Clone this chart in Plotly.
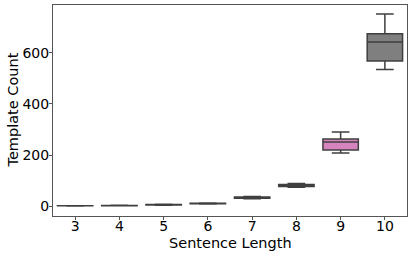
import plotly.graph_objects as go

lengths = [3, 4, 5, 6, 7, 8, 9, 10]
lower = [0.5, 1, 3, 8, 29, 74, 208, 535]
q1 = [0.8, 1.5, 4, 9, 31, 77, 220, 569]
median = [1, 2, 5, 10, 33, 80, 251, 643]
q3 = [1.2, 2.5, 6, 11, 35, 84, 263, 675]
upper = [1.5, 3, 7, 12, 37, 88, 290, 753]
colors = ["#3274a1", "#e1812c", "#3a923a", "#c03d3e", "#9372b2", "#845b53", "#d684bd", "#7f7f7f"]

fig = go.Figure()
for i, L in enumerate(lengths):
    fig.add_trace(go.Box(
        x=[L], q1=[q1[i]], median=[median[i]], q3=[q3[i]],
        lowerfence=[lower[i]], upperfence=[upper[i]],
        width=0.8, whiskerwidth=0.5,
        fillcolor=colors[i], line=dict(color="#3f3f3f", width=1.5),
        showlegend=False, hoverinfo="skip",
    ))

W, H = 412, 256
ML, MR, MT, MB = 53, 5, 5, 40
fig.update_layout(
    width=W, height=H,
    margin=dict(l=ML, r=MR, t=MT, b=MB, autoexpand=False),
    paper_bgcolor="white", plot_bgcolor="white",
    font=dict(family="DejaVu Sans", size=14, color="black"),
    boxmode="overlay",
)
fig.update_xaxes(
    automargin=False,
    range=[2.5, 10.5], tickmode="array", tickvals=lengths,
    ticktext=[str(v) for v in lengths],
    showgrid=False, zeroline=False,
    showline=True, mirror=True, linecolor="#555555", linewidth=1,
    ticks="outside", ticklen=3, tickcolor="#555555",
    ticklabelstandoff=-6,
)
fig.update_yaxes(
    automargin=False,
    range=[-39, 788], tickmode="array", tickvals=[0, 200, 400, 600],
    showgrid=False, zeroline=False,
    showline=True, mirror=True, linecolor="#555555", linewidth=1,
    ticks="outside", ticklen=3, tickcolor="#555555",
    ticklabelstandoff=-3,
)
# axis titles as annotations placed in paper coordinates
ph = H - MT - MB
pw = W - ML - MR
fig.add_annotation(text="Sentence Length", xref="paper", yref="paper",
                   x=0.5, y=-(243 - (H - MB)) / ph, xanchor="center", yanchor="middle",
                   showarrow=False, font=dict(size=14.5))
fig.add_annotation(text="Template Count", xref="paper", yref="paper",
                   x=-(ML - 12) / pw, y=0.5, xanchor="center", yanchor="middle",
                   textangle=-90, showarrow=False, font=dict(size=14.5))
fig.write_html("out.html", config={"displayModeBar": False},
               post_script="document.body.style.margin='0';document.body.style.overflow='hidden';")
